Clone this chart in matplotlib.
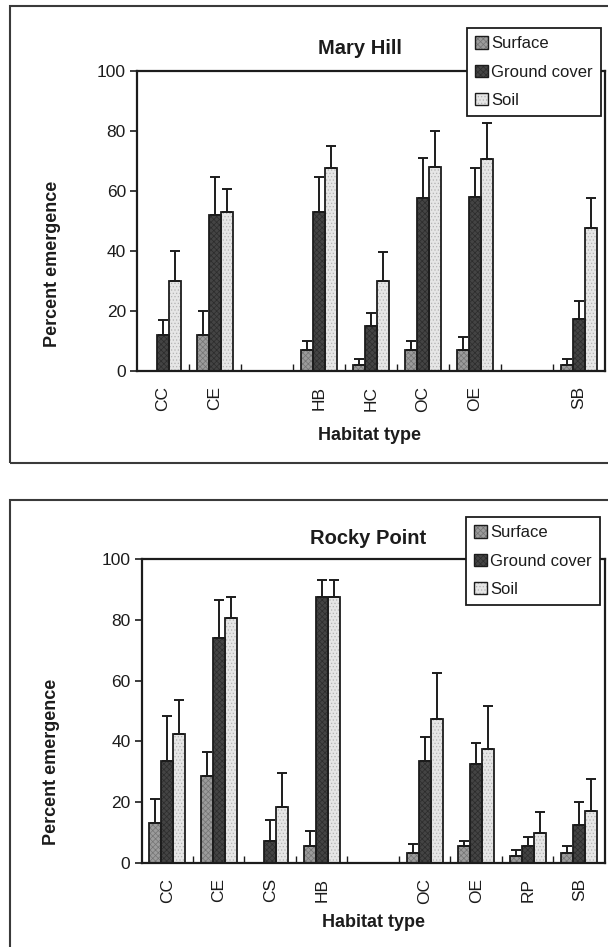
import numpy as np
import matplotlib.pyplot as plt
from matplotlib.patches import Patch, Rectangle

plt.rcParams['font.family'] = ['Liberation Sans', 'DejaVu Sans']
plt.rcParams['hatch.linewidth'] = 0.5

nan = np.nan
habitats = ['CC', 'CE', 'CS', 'HB', 'HC', 'OC', 'OE', 'RP', 'SB']
series = ['Surface', 'Ground cover', 'Soil']

# Mary Hill (no CS or RP plots)
mh_labels = ['CC', 'CE', '', 'HB', 'HC', 'OC', 'OE', '', 'SB']
mh_surface = [nan, 12, nan, 7, 2, 7, 7, nan, 2]
mh_surface_err = [nan, 8, nan, 3, 2, 3, 4.5, nan, 2]
mh_ground = [12, 52, nan, 53, 15, 57.5, 58, nan, 17.5]
mh_ground_err = [5, 12.5, nan, 11.5, 4.5, 13.5, 9.5, nan, 6]
mh_soil = [30, 53, nan, 67.5, 30, 68, 70.5, nan, 47.5]
mh_soil_err = [10, 7.5, nan, 7.5, 9.5, 12, 12, nan, 10]

# Rocky Point (no HC plot)
rp_labels = ['CC', 'CE', 'CS', 'HB', '', 'OC', 'OE', 'RP', 'SB']
rp_surface = [13, 28.5, nan, 5.5, nan, 3.3, 5.5, 2.2, 3.3]
rp_surface_err = [8, 8, nan, 5, nan, 3, 1.8, 2.2, 2.4]
rp_ground = [33.5, 74, 7.3, 87.5, nan, 33.5, 32.5, 5.5, 12.5]
rp_ground_err = [15, 12.5, 7, 5.7, nan, 8, 7, 3, 7.5]
rp_soil = [42.5, 80.5, 18.5, 87.5, nan, 47.5, 37.5, 10, 17]
rp_soil_err = [11, 7, 11, 5.7, nan, 15, 14, 6.8, 10.5]

# fill colour, hatch colour, hatch pattern for each series
styles = [('#9c9c9c', '#747474', 'xxxxxx'),
          ('#444444', '#2c2c2c', 'xxxxxx'),
          ('#e6e6e6', '#b4b4b4', '.....')]
ink = '#1c1c1c'
W, H = 608, 947


def fx(px):
    return px / W


def fy(py):
    return 1 - py / H


def panel(rect_px, title, title_xy, ylab_xy, xlab_xy, leg_xy,
          labels, values, errs):
    l, t, r, b = rect_px
    ax = fig.add_axes([fx(l), fy(b), fx(r) - fx(l), fy(t) - fy(b)])
    x = np.arange(len(habitats))
    bw = 0.23
    for i, (vals, err) in enumerate(zip(values, errs)):
        fc, hc, hatch = styles[i]
        xi = x + (i - 1) * bw
        ax.bar(xi, vals, bw, color=fc, edgecolor=hc, hatch=hatch,
               linewidth=0, zorder=2)
        ax.bar(xi, vals, bw, fill=False, edgecolor=ink, linewidth=1.3,
               zorder=3)
        ax.errorbar(xi, vals, yerr=[np.zeros(len(vals)), err], fmt='none',
                    ecolor=ink, elinewidth=1.4, capsize=3.5, capthick=1.4,
                    zorder=4)
    ax.set_xlim(-0.5, len(habitats) - 0.5)
    ax.set_ylim(0, 100)
    ax.set_yticks(np.arange(0, 101, 20))
    ax.set_xticks(x)
    ax.set_xticklabels(labels, rotation=90, fontsize=12.5, color=ink)
    ax.set_xticks(x[:-1] + 0.5, minor=True)
    ax.tick_params(axis='x', which='major', length=0, pad=11)
    ax.tick_params(axis='x', which='minor', direction='in', length=5,
                   width=1, color=ink)
    ax.tick_params(axis='y', direction='out', length=5, width=1.2,
                   labelsize=12.5, color=ink, labelcolor=ink, pad=3)
    for s in ax.spines.values():
        s.set_linewidth(1.6)
        s.set_color(ink)
    ax.set_facecolor('none')

    fig.text(fx(title_xy[0]), fy(title_xy[1]), title, fontsize=14.5,
             fontweight='bold', ha='center', va='center', color=ink)
    fig.text(fx(ylab_xy[0]), fy(ylab_xy[1]), 'Percent emergence',
             fontsize=13, fontweight='bold', rotation=90, ha='center',
             va='center', color=ink)
    fig.text(fx(xlab_xy[0]), fy(xlab_xy[1]), 'Habitat type', fontsize=13,
             fontweight='bold', ha='center', va='center', color=ink)

    handles = []
    for fc, hc, hatch in styles:
        handles.append((Patch(facecolor=fc, edgecolor=hc, hatch=hatch, lw=0),
                        Patch(fill=False, edgecolor=ink, lw=1.0)))
    leg = ax.legend(handles, series, loc='upper left',
                    bbox_to_anchor=(fx(leg_xy[0]), fy(leg_xy[1])),
                    bbox_transform=fig.transFigure, borderaxespad=0,
                    fontsize=12, frameon=True, fancybox=False,
                    framealpha=1, edgecolor=ink, handlelength=0.75,
                    handleheight=0.75, handletextpad=0.2, labelspacing=0.8,
                    borderpad=0.5)
    for txt in leg.get_texts():
        txt.set_color(ink)
    leg.get_frame().set_linewidth(1.3)
    leg.set_zorder(6)
    return ax


fig = plt.figure(figsize=(W / 100, H / 100), dpi=100)
fig.patch.set_facecolor('white')

# frames around the two panels
fig.add_artist(Rectangle((fx(10), fy(463)), 1, fy(6) - fy(463),
                         transform=fig.transFigure, fill=False,
                         edgecolor='#3a3a3a', lw=1.5))
fig.add_artist(Rectangle((fx(10), -0.1), 1, fy(500) + 0.1,
                         transform=fig.transFigure, fill=False,
                         edgecolor='#3a3a3a', lw=1.5))

panel((137, 71, 605, 371), 'Mary Hill', (360, 49), (53, 264), (370, 435),
      (467, 28), mh_labels,
      [mh_surface, mh_ground, mh_soil],
      [mh_surface_err, mh_ground_err, mh_soil_err])

panel((141.5, 559, 605, 863), 'Rocky Point', (368, 538), (52, 762),
      (373, 922), (466, 517), rp_labels,
      [rp_surface, rp_ground, rp_soil],
      [rp_surface_err, rp_ground_err, rp_soil_err])

fig.savefig('out.png', dpi=100)
